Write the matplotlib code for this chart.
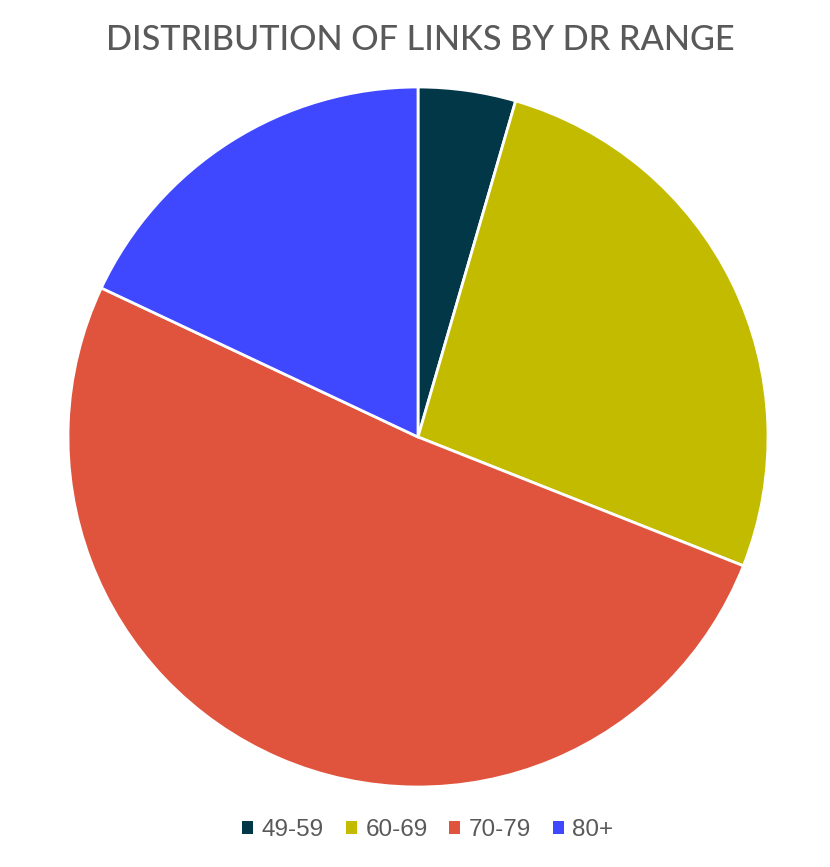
import matplotlib.pyplot as plt
from matplotlib.patches import Patch

# data (share of links per DR range, %)
labels = ["49-59", "60-69", "70-79", "80+"]
shares = [4.5, 26.5, 51.0, 18.0]
colors = ["#023747", "#c3bb00", "#e0533d", "#3f48ff"]

fig = plt.figure(figsize=(8.3, 8.67), dpi=100)
ax = fig.add_axes([68/830, 1 - 787/867, 700/830, 700/867])

ax.pie(shares, colors=colors, startangle=90, counterclock=False,
       wedgeprops=dict(edgecolor="white", linewidth=2))
ax.set_xlim(-1.0, 1.0)
ax.set_ylim(-1.0, 1.0)
ax.set_aspect("equal")

fig.text(420/830, 1 - 40/867, "DISTRIBUTION OF LINKS BY DR RANGE",
         ha="center", va="center", fontsize=24.7, color="#595959",
         family="Lato", fontweight="medium")

handles = [Patch(facecolor=c, edgecolor="none") for c in colors]
fig.legend(handles, labels, loc="center", bbox_to_anchor=(428/830, 1 - 830/867),
           ncol=4, frameon=False, labelcolor="#595959",
           handlelength=0.45, handleheight=0.45, handletextpad=0.35,
           columnspacing=0.9, prop=dict(family="Liberation Sans", size=17.5))

fig.savefig("out.png", dpi=100, facecolor="white")
